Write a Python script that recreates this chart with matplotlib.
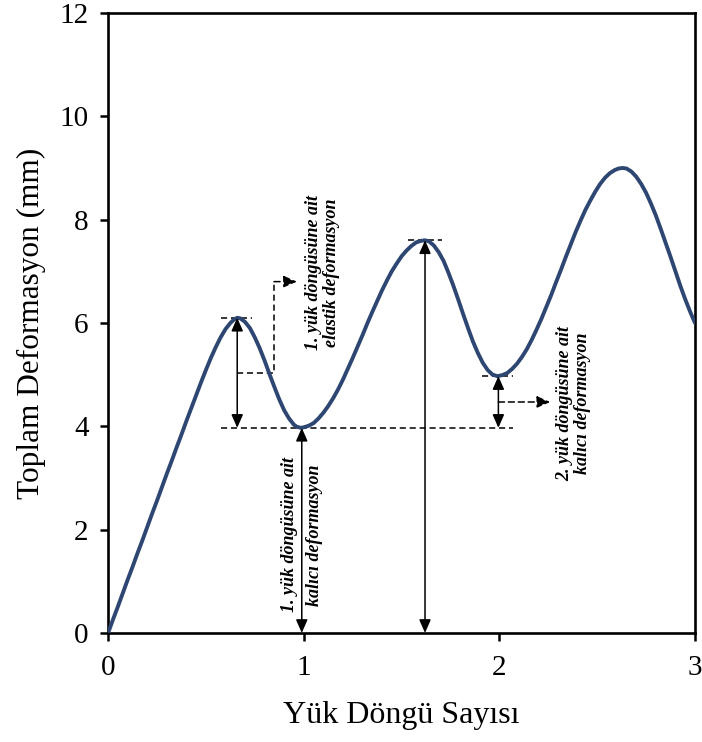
import numpy as np
import matplotlib.pyplot as plt

# curve (load cycles vs total deformation)
cycle = [0.0, 0.025, 0.05, 0.075, 0.1, 0.125, 0.15, 0.175, 0.2, 0.225, 0.25, 0.275, 0.3,
         0.325, 0.35, 0.375, 0.4, 0.425, 0.45, 0.475, 0.5, 0.525, 0.55, 0.575, 0.6, 0.625,
         0.645, 0.66,
         0.675, 0.7, 0.725, 0.75, 0.775, 0.8, 0.825, 0.85, 0.875, 0.9, 0.925, 0.95, 0.965, 0.985,
         1.0, 1.025, 1.05, 1.075, 1.1, 1.125, 1.15, 1.175, 1.2, 1.225, 1.25, 1.275, 1.3,
         1.325, 1.35, 1.375, 1.4, 1.425, 1.45, 1.475, 1.5, 1.525, 1.55, 1.575, 1.6, 1.62,
         1.64, 1.665, 1.69, 1.715, 1.74, 1.765, 1.79, 1.815, 1.84, 1.865, 1.89, 1.915, 1.94,
         1.965, 1.99,
         2.015, 2.04, 2.065, 2.09, 2.115, 2.14, 2.165, 2.19, 2.215, 2.24, 2.265, 2.29, 2.315,
         2.34, 2.365, 2.39, 2.415, 2.44, 2.465, 2.49, 2.515, 2.54, 2.565, 2.59, 2.61, 2.63,
         2.65, 2.675, 2.7, 2.725, 2.75, 2.775, 2.8, 2.825, 2.85, 2.875, 2.9, 2.925, 2.95,
         2.975, 3.0]
deform = [0.0, 0.26, 0.51, 0.77, 1.03, 1.28, 1.54, 1.79, 2.05, 2.31, 2.56, 2.82, 3.08,
          3.33, 3.59, 3.84, 4.1, 4.35, 4.6, 4.85, 5.09, 5.32, 5.53, 5.72, 5.88, 6.0,
          6.07, 6.1,
          6.09, 6.02, 5.9, 5.72, 5.51, 5.27, 5.01, 4.76, 4.52, 4.31, 4.15, 4.03, 3.99, 3.97,
          3.98, 4.01, 4.06, 4.15, 4.26, 4.39, 4.54, 4.71, 4.9, 5.11, 5.32, 5.54, 5.76,
          5.99, 6.21, 6.42, 6.63, 6.82, 7.0, 7.15, 7.29, 7.4, 7.49, 7.56, 7.59, 7.6,
          7.58, 7.5, 7.37, 7.2, 6.97, 6.72, 6.45, 6.17, 5.9, 5.64, 5.42, 5.23, 5.09,
          5.0, 4.97,
          4.99, 5.03, 5.11, 5.21, 5.34, 5.49, 5.67, 5.87, 6.08, 6.31, 6.54, 6.79, 7.03,
          7.28, 7.52, 7.76, 7.98, 8.19, 8.37, 8.54, 8.69, 8.81, 8.9, 8.96, 8.99, 9.0,
          8.99, 8.93, 8.83, 8.69, 8.52, 8.31, 8.08, 7.82, 7.55, 7.28, 7.0, 6.72, 6.46,
          6.22, 6.0]

x_ticks = [0, 1, 2, 3]
y_ticks = [0, 2, 4, 6, 8, 10, 12]

txt_elastic1 = "1. yük döngüsüne ait\nelastik deformasyon"
txt_perm1 = "1. yük döngüsüne ait\nkalıcı deformasyon"
txt_perm2 = "2. yük döngüsüne ait\nkalıcı deformasyon"

x = np.array(cycle)
y = np.array(deform)

# extrema of the curve, used for the annotation arrows
def extreme(lo, hi, fn):
    m = (x >= lo) & (x <= hi)
    i = np.where(m)[0][fn(y[m])]
    return x[i], y[i]

p1x, p1y = extreme(0.4, 0.8, np.argmax)
t1x, t1y = extreme(0.8, 1.3, np.argmin)
p2x, p2y = extreme(1.3, 1.8, np.argmax)
t2x, t2y = extreme(1.8, 2.3, np.argmin)

plt.rcParams['font.family'] = ['Liberation Serif', 'DejaVu Serif']

fig = plt.figure(figsize=(7.02, 7.42), dpi=100)
ax = fig.add_axes([0.154, 0.147, 0.836, 0.8355])

ax.plot(x, y, color='#2d4672', lw=2.8, solid_capstyle='round', zorder=3)

ax.set_xlim(0, 3)
ax.set_ylim(0, 12)
ax.set_xticks(x_ticks)
ax.set_yticks(y_ticks)
ax.tick_params(direction='out', length=6, width=1.8, labelsize=21, color='black')
ax.tick_params(axis='x', pad=10)
ax.tick_params(axis='y', pad=8)
for s in ax.spines.values():
    s.set_linewidth(1.9)
    s.set_color('black')

ax.set_xlabel('Yük Döngü Sayısı', fontsize=23, labelpad=14)
ax.set_ylabel('Toplam Deformasyon (mm)', fontsize=22.5, labelpad=10)

dash = dict(color='black', lw=1.1, ls=(0, (4, 2.5)))
head2 = dict(arrowstyle='<|-|>,head_length=0.5,head_width=0.22', color='black', lw=1.1,
             shrinkA=0, shrinkB=0, mutation_scale=16)
head1 = dict(arrowstyle='-|>,head_length=0.5,head_width=0.22', color='black', lw=1.1,
             shrinkA=0, shrinkB=0, mutation_scale=16, ls=(0, (4, 2.5)))

# horizontal reference lines at extrema
ax.plot([p1x - 0.085, p1x + 0.075], [p1y, p1y], **dash)
ax.plot([t1x - 0.41, t2x + 0.08], [t1y, t1y], **dash)
ax.plot([p2x - 0.085, p2x + 0.085], [p2y, p2y], **dash)
ax.plot([t2x - 0.08, t2x + 0.08], [t2y, t2y], **dash)

# elastic deformation, cycle 1
ax.annotate('', xy=(p1x, t1y), xytext=(p1x, p1y), arrowprops=head2)
mid1 = (p1y + t1y) / 2
ax.plot([p1x, 0.848, 0.848], [mid1, mid1, 6.8], **dash)
ax.annotate('', xy=(0.965, 6.8), xytext=(0.848, 6.8), arrowprops=head1)

# permanent deformation, cycle 1 and peak 2
ax.annotate('', xy=(t1x + 0.005, 0), xytext=(t1x + 0.005, t1y), arrowprops=head2)
ax.annotate('', xy=(p2x, 0), xytext=(p2x, p2y), arrowprops=head2)

# permanent deformation, cycle 2
ax.annotate('', xy=(t2x + 0.005, t1y), xytext=(t2x + 0.005, t2y), arrowprops=head2)
mid2 = (t2y + t1y) / 2
ax.annotate('', xy=(2.26, mid2), xytext=(t2x + 0.005, mid2), arrowprops=head1)

tkw = dict(rotation=90, ha='center', va='center', fontsize=13, fontweight='bold',
           fontstyle='italic')
ax.text(1.095, 6.97, txt_elastic1, linespacing=1.1, **tkw)
ax.text(t1x + 0.005, 1.9, txt_perm1, linespacing=1.6, **tkw)
ax.text(2.38, 4.45, txt_perm2, linespacing=1.1, **tkw)

plt.savefig('out.png', dpi=100)
plt.close()
